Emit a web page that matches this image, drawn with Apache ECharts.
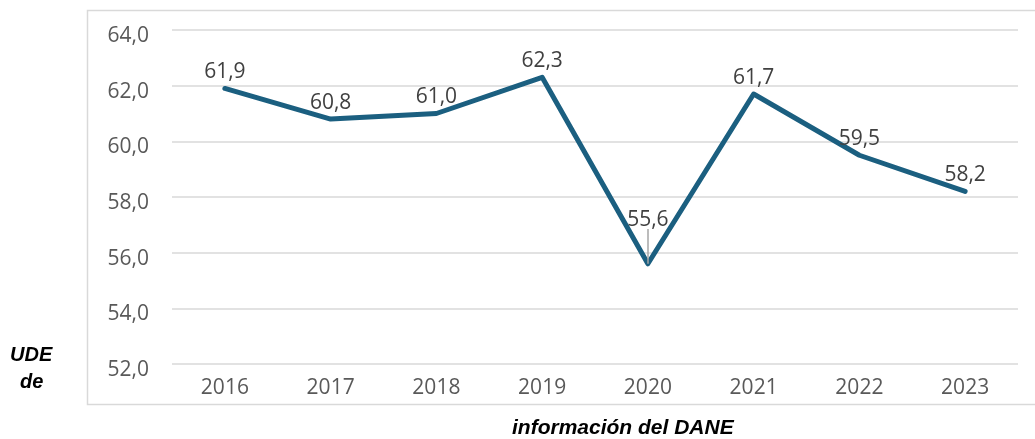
<!DOCTYPE html>
<html>
<head>
<meta charset="utf-8">
<script src="https://cdn.jsdelivr.net/npm/echarts@6/dist/echarts.min.js"></script>
<style>
  html, body { margin: 0; padding: 0; background: #fff; }
  #chart { width: 1035px; height: 439px; }
</style>
</head>
<body>
<div id="chart"></div>
<script>
// años y valores
const years = ['2016', '2017', '2018', '2019', '2020', '2021', '2022', '2023'];
const values = [61.9, 60.8, 61.0, 62.3, 55.6, 61.7, 59.5, 58.2];

const fmt = v => v.toFixed(1).replace('.', ',');

const chart = echarts.init(document.getElementById('chart'));
const option = {
    animation: false,
    grid: { left: 172, right: 17, top: 30, bottom: 75 },
    graphic: [
        {
            type: 'rect',
            shape: { x: 87.5, y: 10.5, width: 960, height: 394 },
            style: { fill: 'none', stroke: '#d9d9d9', lineWidth: 1.5 },
            silent: true
        },
        {
            type: 'text', left: 10, top: 345,
            style: { text: 'UDE', font: 'italic bold 20px "Liberation Sans"', fill: '#000' }
        },
        {
            type: 'text', left: 20, top: 372,
            style: { text: 'de', font: 'italic bold 20px "Liberation Sans"', fill: '#000' }
        },
        {
            type: 'text', left: 512, top: 418,
            style: { text: 'información del DANE', font: 'italic bold 21px "Liberation Sans"', fill: '#000' }
        }
    ],
    xAxis: {
        type: 'category',
        data: years,
        boundaryGap: true,
        axisLine: { show: false },
        axisTick: { show: false },
        axisLabel: { color: '#595959', fontSize: 21, fontFamily: 'Open Sans', margin: 14 }
    },
    yAxis: {
        type: 'value',
        min: 52,
        max: 64,
        interval: 2,
        axisLine: { show: false },
        axisTick: { show: false },
        axisLabel: {
            margin: 23,
            formatter: v => '{a|' + fmt(v) + '}',
            rich: {
                a: { color: '#595959', fontSize: 21, fontFamily: 'Open Sans', padding: [12, 0, 0, 0] }
            }
        },
        splitLine: { lineStyle: { color: '#d9d9d9', width: 1.5 } }
    },
    series: [{
        type: 'line',
        data: values.map((v, i) => i === 4
            ? { value: v, label: { offset: [0, -27] } }
            : v),
        symbol: 'circle',
        symbolSize: 0,
        showSymbol: true,
        lineStyle: { color: '#1b5f80', width: 5, cap: 'round', join: 'round' },
        itemStyle: { color: 'rgba(0,0,0,0)' },
        label: {
            show: true,
            position: 'top',
            distance: 6,
            color: '#404040',
            fontSize: 21,
            fontFamily: 'Open Sans',
            formatter: p => fmt(p.value)
        },
        markLine: {
            silent: true,
            symbol: 'none',
            label: { show: false },
            lineStyle: { color: '#a6a6a6', width: 1.5, type: 'solid' },
            data: [[{ coord: ['2020', 55.6] }, { coord: ['2020', 56.85] }]]
        }
    }]
};
chart.setOption(option);
</script>
</body>
</html>
